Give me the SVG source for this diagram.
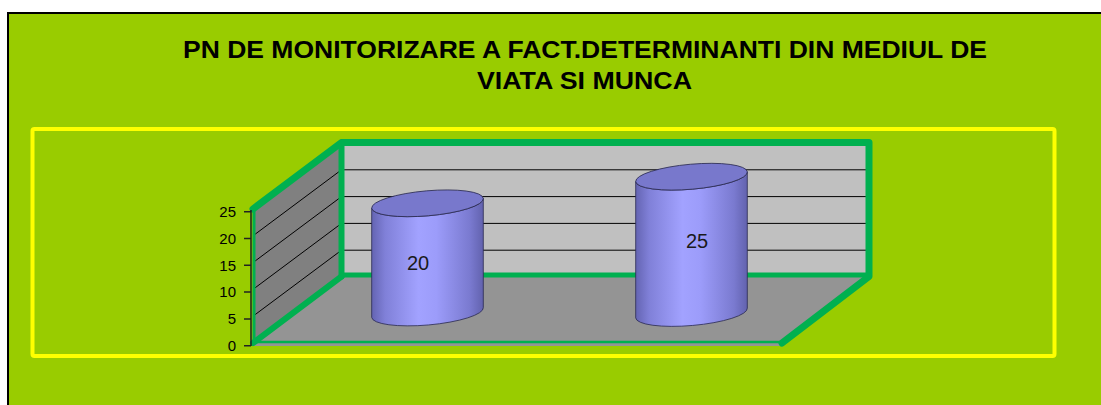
<svg xmlns="http://www.w3.org/2000/svg" width="1101" height="405" viewBox="0 0 1101 405">
<defs>
<style>
.title{font-family:"Liberation Sans",Arial,sans-serif;font-weight:bold;font-size:23px;fill:#000}
.ax{font-family:"Liberation Sans",Arial,sans-serif;font-size:15px;fill:#000;text-anchor:end}
.dl{font-family:"Liberation Sans",Arial,sans-serif;font-size:20px;fill:#1a1a1a;text-anchor:middle}
.g{stroke:#00B050;fill:none;stroke-linejoin:round;stroke-linecap:round}
.grid{stroke:#000;stroke-width:1;fill:none}
.body{fill:url(#cyl);stroke:#2a2a50;stroke-width:0.8}
.top{fill:#7878CC;stroke:#2a2a50;stroke-width:0.8}
</style>
<linearGradient id="cyl" x1="0" y1="0" x2="1" y2="0">
<stop offset="0" stop-color="#6464B2"/>
<stop offset="0.12" stop-color="#8080D8"/>
<stop offset="0.42" stop-color="#A2A2FF"/>
<stop offset="0.58" stop-color="#9C9CFA"/>
<stop offset="0.88" stop-color="#7A7AD0"/>
<stop offset="1" stop-color="#6262AE"/>
</linearGradient>
</defs>
<rect x="0" y="0" width="1101" height="405" fill="#fff"/>
<rect id="frame" x="8" y="13" width="1100" height="400" fill="#99CC00" stroke="#000" stroke-width="2"/>
<rect id="plotframe" x="32.5" y="129" width="1022" height="227" rx="2" fill="none" stroke="#FFFF00" stroke-width="4"/>
<g id="title">
<text class="title" x="585" y="58" text-anchor="middle" textLength="804" lengthAdjust="spacingAndGlyphs">PN DE MONITORIZARE A FACT.DETERMINANTI DIN MEDIUL DE</text>
<text class="title" x="584.5" y="89" text-anchor="middle" textLength="215" lengthAdjust="spacingAndGlyphs">VIATA SI MUNCA</text>
</g>
<g id="walls">
<polygon id="sidewall" points="253,209 341.5,142.5 341.5,277 253,343" fill="#808080"/>
<rect id="backwall" x="341.5" y="142.5" width="527.5" height="134.5" fill="#C0C0C0"/>
<polygon id="floor" points="253,346 253,343 341.5,276.5 869,276.5 782,346" fill="#949494"/>
</g>
<g id="gridlines">
<path class="grid" d="M341.5,169.8H869M341.5,196.6H869M341.5,223.4H869M341.5,250.2H869"/>
<path class="grid" d="M253,235.8L341.5,169.8M253,262.6L341.5,196.6M253,289.4L341.5,223.4M253,316.2L341.5,250.2"/>
</g>
<g id="edges">
<path class="g" stroke-width="7" d="M253,209L341.5,142.5H869V276.5L782,343"/>
<path class="g" stroke-width="6" d="M341.5,142.5V276.5"/>
<path class="g" stroke-width="5" d="M341.5,275H869"/>
<path class="g" stroke-width="6" d="M253,343L341.5,276.5"/>
<path class="g" stroke-width="2.5" d="M254,342H782"/>
<path class="g" stroke-width="3" d="M254,210V343"/>
</g>
<g id="axis">
<path stroke="#222" stroke-width="1.5" fill="none" d="M251,210V346M244,211.7H251M244,238.5H251M244,265.3H251M244,292.1H251M244,318.9H251M244,345.7H251"/>
<text class="ax" x="236" y="217">25</text>
<text class="ax" x="236" y="243.8">20</text>
<text class="ax" x="236" y="270.6">15</text>
<text class="ax" x="236" y="297.4">10</text>
<text class="ax" x="236" y="324.2">5</text>
<text class="ax" x="236" y="351">0</text>
</g>
<g id="bar1">
<path class="body" d="M371.7,208.2L371.7,317.4A56,12.5 -5 0 0 483.3,307.6L483.3,198.4A56,12.5 -5 0 1 371.7,208.2Z"/>
<ellipse class="top" cx="427.5" cy="203.3" rx="56" ry="12.5" transform="rotate(-5 427.5 203.3)"/>
<text class="dl" x="418" y="270">20</text>
</g>
<g id="bar2">
<path class="body" d="M635.7,181.6L635.7,317.9A56,12.5 -5 0 0 747.3,308.1L747.3,171.8A56,12.5 -5 0 1 635.7,181.6Z"/>
<ellipse class="top" cx="691.5" cy="176.7" rx="56" ry="12.5" transform="rotate(-5 691.5 176.7)"/>
<text class="dl" x="697" y="248">25</text>
</g>
</svg>
